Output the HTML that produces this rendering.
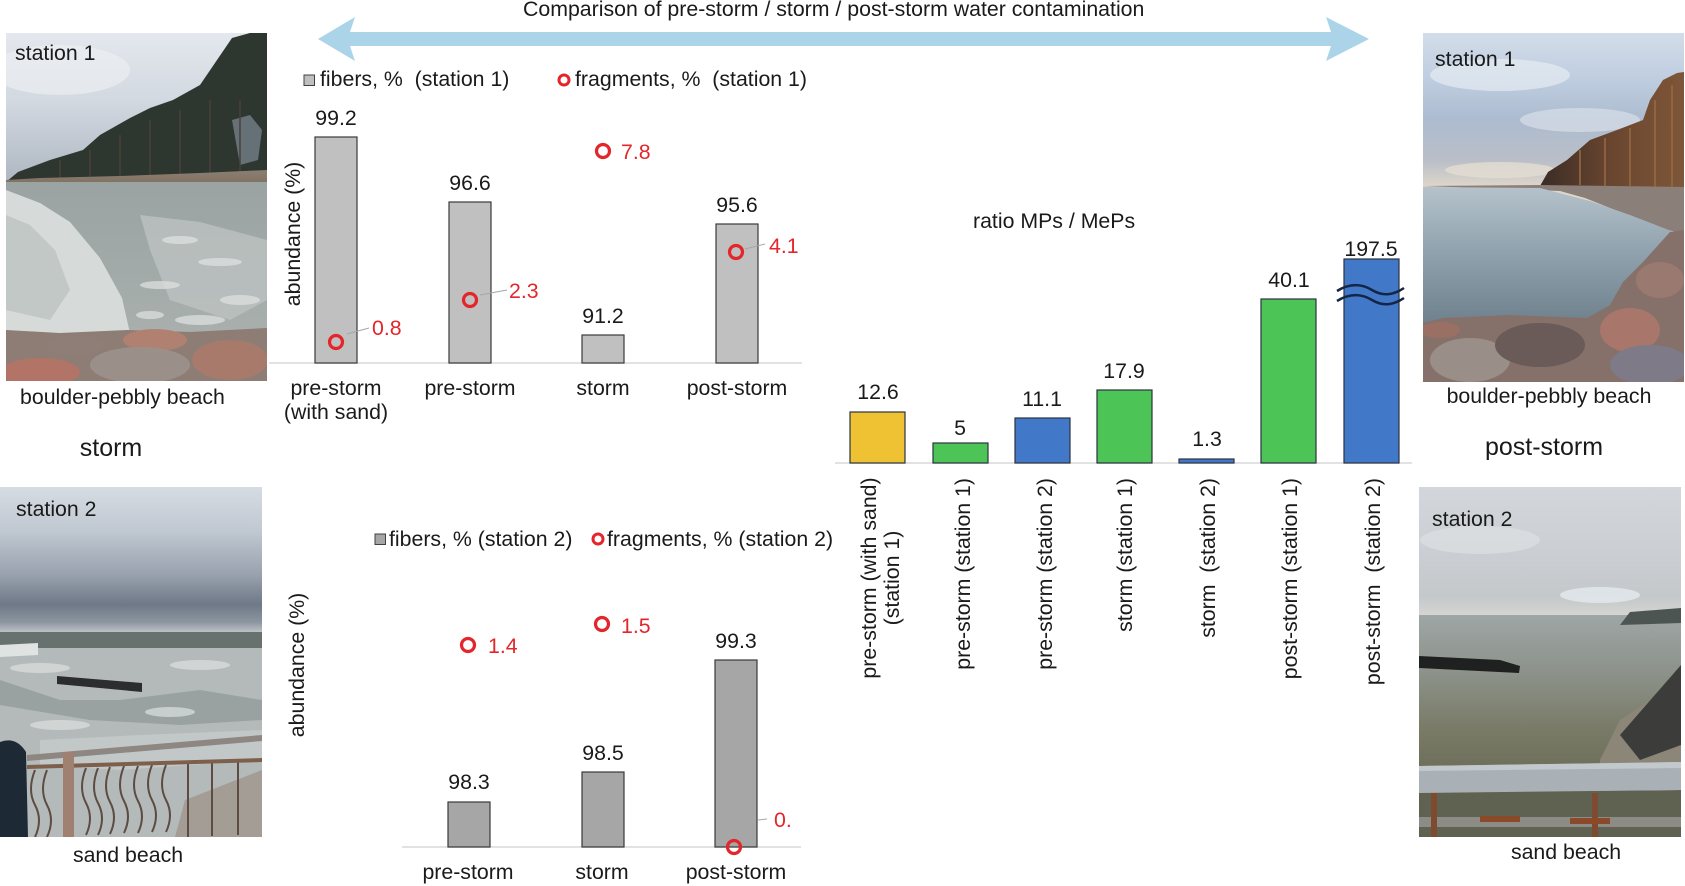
<!DOCTYPE html>
<html><head><meta charset="utf-8">
<style>
html,body{margin:0;padding:0;background:#fff;}
svg{display:block;}
text{font-family:"Liberation Sans",Arial,sans-serif;fill:#1a1a1a;font-size:21.3px;}
.red{fill:#e3262b;}
.big{font-size:25px;}
</style></head><body>
<svg width="1685" height="886" viewBox="0 0 1685 886" xmlns="http://www.w3.org/2000/svg">
<defs>
<clipPath id="cA"><rect x="6" y="33" width="261" height="348"/></clipPath>
<clipPath id="cB"><rect x="1423" y="33" width="261" height="349"/></clipPath>
<clipPath id="cC"><rect x="0" y="487" width="262" height="350"/></clipPath>
<clipPath id="cD"><rect x="1419" y="487" width="262" height="350"/></clipPath>
<linearGradient id="skyA" x1="0" y1="33" x2="0" y2="182" gradientUnits="userSpaceOnUse">
<stop offset="0" stop-color="#e4e8ee"/><stop offset="0.45" stop-color="#d3d9e1"/><stop offset="1" stop-color="#aeb7c2"/></linearGradient>
<linearGradient id="waterA" x1="0" y1="178" x2="0" y2="345" gradientUnits="userSpaceOnUse">
<stop offset="0" stop-color="#9aa3a2"/><stop offset="1" stop-color="#a9b0ae"/></linearGradient>
<linearGradient id="embA" x1="0" y1="170" x2="0" y2="218" gradientUnits="userSpaceOnUse">
<stop offset="0" stop-color="#8c7f70"/><stop offset="1" stop-color="#5e5045"/></linearGradient>
<linearGradient id="skyB" x1="0" y1="33" x2="0" y2="188" gradientUnits="userSpaceOnUse">
<stop offset="0" stop-color="#d3dde9"/><stop offset="0.3" stop-color="#bfcde0"/><stop offset="0.55" stop-color="#adbcd0"/><stop offset="0.82" stop-color="#b9bec8"/><stop offset="1" stop-color="#e0d7ca"/></linearGradient>
<linearGradient id="treeB" x1="1540" y1="0" x2="1684" y2="0" gradientUnits="userSpaceOnUse">
<stop offset="0" stop-color="#3a2c25"/><stop offset="0.5" stop-color="#6a4630"/><stop offset="1" stop-color="#7e5638"/></linearGradient>
<linearGradient id="waterB" x1="0" y1="185" x2="0" y2="330" gradientUnits="userSpaceOnUse">
<stop offset="0" stop-color="#b6c3cc"/><stop offset="0.45" stop-color="#91a3af"/><stop offset="1" stop-color="#6c7e89"/></linearGradient>
<linearGradient id="skyC" x1="0" y1="487" x2="0" y2="634" gradientUnits="userSpaceOnUse">
<stop offset="0" stop-color="#d6dce3"/><stop offset="0.3" stop-color="#c0c8d1"/><stop offset="0.6" stop-color="#98a1ad"/><stop offset="0.8" stop-color="#6e7987"/><stop offset="0.92" stop-color="#8c96a1"/><stop offset="1" stop-color="#c7cacd"/></linearGradient>
<linearGradient id="skyD" x1="0" y1="487" x2="0" y2="616" gradientUnits="userSpaceOnUse">
<stop offset="0" stop-color="#d3d7db"/><stop offset="0.5" stop-color="#cbcfd3"/><stop offset="0.85" stop-color="#c4c8ca"/><stop offset="1" stop-color="#d6d6d2"/></linearGradient>
<linearGradient id="waterD" x1="0" y1="615" x2="0" y2="775" gradientUnits="userSpaceOnUse">
<stop offset="0" stop-color="#9ea6a6"/><stop offset="0.35" stop-color="#8d938b"/><stop offset="0.7" stop-color="#7a7c68"/><stop offset="1" stop-color="#6d6d58"/></linearGradient>
</defs>

<!-- Arrow -->
<path d="M318,39 L355,17 L350,32 L1331,32 L1326,17 L1369,39 L1326,61 L1331,46 L350,46 L355,61 Z" fill="#acd4e8"/>
<text x="523" y="16">Comparison of pre-storm / storm / post-storm water contamination</text>

<!-- Photo A: left top -->
<g clip-path="url(#cA)">
<rect x="6" y="33" width="261" height="348" fill="url(#skyA)"/>
<ellipse cx="60" cy="70" rx="70" ry="25" fill="#eef1f4" opacity="0.6"/>
<polygon points="6,182 18,172 50,160 83,150 100,135 130,118 150,108 173,100 200,85 217,60 232,38 250,33 267,33 267,176 6,182" fill="#2d362f"/>
<polygon points="232,120 250,115 262,130 258,160 240,165" fill="#7f8a96" opacity="0.7"/>
<g stroke="#4a4038" stroke-width="1.5">
<line x1="60" y1="160" x2="60" y2="178"/><line x1="90" y1="150" x2="90" y2="177"/><line x1="120" y1="135" x2="120" y2="176"/><line x1="150" y1="120" x2="150" y2="176"/><line x1="180" y1="110" x2="180" y2="175"/><line x1="210" y1="100" x2="210" y2="174"/><line x1="240" y1="100" x2="240" y2="173"/>
</g>
<polygon points="6,180 40,178 120,176 200,173 267,170 267,218 200,206 120,193 40,184 6,183" fill="url(#embA)"/>
<rect x="6" y="182" width="261" height="165" fill="url(#waterA)"/>
<polygon points="6,190 40,203 70,222 100,258 122,298 132,342 6,342" fill="#d6dbd9"/>
<polygon points="6,215 30,225 55,250 70,290 50,320 6,310" fill="#b9c0bd" opacity="0.7"/>
<polygon points="140,215 200,222 267,240 267,300 230,320 170,300 150,250" fill="#bcc2c0" opacity="0.8"/>
<g fill="#e0e4e2" opacity="0.7">
<ellipse cx="180" cy="240" rx="18" ry="4"/><ellipse cx="220" cy="262" rx="22" ry="4"/><ellipse cx="160" cy="285" rx="20" ry="4"/><ellipse cx="240" cy="300" rx="20" ry="5"/><ellipse cx="200" cy="320" rx="25" ry="5"/><ellipse cx="150" cy="315" rx="14" ry="4"/>
</g>
<polygon points="6,330 60,333 127,330 190,332 267,328 267,381 6,381" fill="#8e7d74"/>
<ellipse cx="40" cy="372" rx="40" ry="14" fill="#b27466"/>
<ellipse cx="155" cy="340" rx="32" ry="11" fill="#b08070"/>
<ellipse cx="140" cy="365" rx="50" ry="18" fill="#9b9089"/>
<ellipse cx="230" cy="360" rx="38" ry="20" fill="#a87a6c"/>
<ellipse cx="75" cy="345" rx="28" ry="10" fill="#8f7e78"/>
</g>
<text x="15" y="60">station 1</text>
<text x="20" y="404">boulder-pebbly beach</text>
<text class="big" x="111" y="456" text-anchor="middle">storm</text>

<!-- Photo B: right top -->
<g clip-path="url(#cB)">
<rect x="1423" y="33" width="261" height="349" fill="url(#skyB)"/>
<ellipse cx="1500" cy="75" rx="70" ry="16" fill="#e6ecf2" opacity="0.7"/>
<ellipse cx="1580" cy="120" rx="60" ry="12" fill="#dfe5ec" opacity="0.6"/>
<ellipse cx="1500" cy="170" rx="55" ry="8" fill="#e4ddd2" opacity="0.8"/>
<polygon points="1540,186 1548,172 1567,160 1590,140 1617,130 1643,120 1650,100 1663,80 1677,73 1684,72 1684,188" fill="url(#treeB)"/>
<g stroke="#9a6a42" stroke-width="1.5">
<line x1="1580" y1="150" x2="1580" y2="185"/><line x1="1605" y1="138" x2="1605" y2="186"/><line x1="1630" y1="128" x2="1630" y2="186"/><line x1="1655" y1="100" x2="1655" y2="187"/><line x1="1672" y1="85" x2="1672" y2="187"/>
</g>
<polygon points="1423,186 1540,185 1684,187 1684,234 1660,228 1620,212 1585,198 1560,191" fill="#8a7f79"/>
<polygon points="1423,187 1540,188 1590,201 1630,215 1684,236 1684,382 1423,382" fill="url(#waterB)"/>
<polygon points="1423,323 1443,318 1510,315 1587,318 1610,305 1623,282 1643,262 1670,232 1684,230 1684,382 1423,382" fill="#86706a"/>
<ellipse cx="1470" cy="360" rx="40" ry="22" fill="#9a8e88"/>
<ellipse cx="1540" cy="345" rx="45" ry="22" fill="#6a5a58"/>
<ellipse cx="1630" cy="330" rx="30" ry="22" fill="#a8766a"/>
<ellipse cx="1660" cy="280" rx="24" ry="18" fill="#9a7a70"/>
<ellipse cx="1650" cy="365" rx="40" ry="20" fill="#7e7a88"/>
<ellipse cx="1440" cy="330" rx="20" ry="8" fill="#9a7064"/>
</g>
<text x="1435" y="66">station 1</text>
<text x="1549" y="403" text-anchor="middle">boulder-pebbly beach</text>
<text class="big" x="1544" y="455" text-anchor="middle">post-storm</text>

<!-- Photo C: left bottom -->
<g clip-path="url(#cC)">
<rect x="0" y="487" width="262" height="350" fill="url(#skyC)"/>
<rect x="0" y="632" width="262" height="18" fill="#67716d"/>
<rect x="0" y="648" width="262" height="189" fill="#b3bab9"/>
<polygon points="0,645 38,643 38,655 0,657" fill="#dfe3e2"/>
<polygon points="0,680 60,700 120,700 200,690 262,700 262,720 180,725 90,720 0,705" fill="#8f9997" opacity="0.7"/>
<polygon points="40,740 140,735 262,730 262,760 120,770 40,765" fill="#c9cfce" opacity="0.7"/>
<g fill="#dde1e0" opacity="0.7">
<ellipse cx="200" cy="665" rx="30" ry="5"/><ellipse cx="40" cy="668" rx="30" ry="5"/><ellipse cx="170" cy="712" rx="25" ry="5"/><ellipse cx="60" cy="725" rx="30" ry="5"/>
</g>
<polygon points="57,676 142,683 142,692 57,684" fill="#2b2d2f"/>
<polygon points="185,800 262,770 262,837 175,837" fill="#9c9288" opacity="0.7"/>
<g stroke="#5d4c42" stroke-width="2" fill="none">
<path d="M35,770 q-8,20 0,35 t0,32"/><path d="M47,770 q-8,20 0,35 t0,32"/><path d="M86,768 q-8,20 0,35 t0,32"/><path d="M98,768 q-8,20 0,35 t0,32"/><path d="M110,767 q-8,20 0,35 t0,32"/><path d="M124,766 q-8,20 0,35 t0,32"/><path d="M138,766 q-8,20 0,35 t0,32"/><path d="M152,765 q-8,20 0,35 t0,32"/><path d="M166,765 q-8,20 0,35 t0,32"/><path d="M188,764 l0,73"/><path d="M212,763 l0,73"/><path d="M238,762 l0,73"/>
</g>
<polygon points="27,755 262,735 262,741 27,761" fill="#8e8680"/>
<polygon points="27,765 262,758 262,762 27,769" fill="#7d5f4c"/>
<rect x="63" y="752" width="11" height="85" fill="#a08070"/>
<path d="M0,742 Q16,736 26,752 L28,837 L0,837 Z" fill="#1d2a35"/>
</g>
<text x="16" y="516">station 2</text>
<text x="128" y="862" text-anchor="middle">sand beach</text>

<!-- Photo D: right bottom -->
<g clip-path="url(#cD)">
<rect x="1419" y="487" width="262" height="130" fill="url(#skyD)"/>
<ellipse cx="1600" cy="595" rx="40" ry="8" fill="#e4eaee" opacity="0.8"/>
<ellipse cx="1480" cy="540" rx="60" ry="14" fill="#dfe2e5" opacity="0.6"/>
<rect x="1419" y="615" width="262" height="160" fill="url(#waterD)"/>
<polygon points="1630,612 1681,608 1681,623 1620,625" fill="#4d5553"/>
<polygon points="1419,656 1500,660 1520,666 1519,673 1419,668" fill="#1f2120"/>
<polygon points="1600,760 1620,720 1681,680 1681,775 1600,775" fill="#8c8678"/>
<polygon points="1620,735 1681,665 1681,745 1640,760" fill="#3c3c3a"/>
<polygon points="1419,792 1681,790 1681,837 1419,837" fill="#5f6251"/>
<polygon points="1419,766 1681,762 1681,790 1419,793" fill="#a9b1b7"/>
<polygon points="1419,766 1681,762 1681,768 1419,771" fill="#c2c9cd"/>
<rect x="1419" y="817" width="262" height="10" fill="#8c8b86"/>
<rect x="1431" y="793" width="6" height="44" fill="#7e4a30"/>
<rect x="1592" y="793" width="6" height="44" fill="#7e4a30"/>
<rect x="1480" y="816" width="40" height="6" fill="#8a4a2a"/>
<rect x="1570" y="818" width="40" height="6" fill="#8a4a2a"/>
</g>
<text x="1432" y="526">station 2</text>
<text x="1566" y="859" text-anchor="middle">sand beach</text>

<!-- Chart 1 -->
<rect x="304" y="75" width="10.5" height="10.5" fill="#bfbfbf" stroke="#404040" stroke-width="1"/>
<text x="320" y="86">fibers, %&#160; (station 1)</text>
<circle cx="564" cy="80" r="5" fill="none" stroke="#e3262b" stroke-width="3"/>
<text x="575" y="86">fragments, %&#160; (station 1)</text>
<text transform="translate(300,234) rotate(-90)" text-anchor="middle">abundance (%)</text>
<line x1="269" y1="363" x2="802" y2="363" stroke="#d9d9d9" stroke-width="1.5"/>
<g fill="#c0c0c0" stroke="#3a3a3a" stroke-width="1.2">
<rect x="315" y="137" width="42" height="226"/>
<rect x="449" y="202" width="42" height="161"/>
<rect x="582" y="335" width="42" height="28"/>
<rect x="716" y="224" width="42" height="139"/>
</g>
<g text-anchor="middle">
<text x="336" y="125">99.2</text>
<text x="470" y="190">96.6</text>
<text x="603" y="323">91.2</text>
<text x="737" y="212">95.6</text>
<text x="336" y="395">pre-storm</text>
<text x="336" y="419">(with sand)</text>
<text x="470" y="395">pre-storm</text>
<text x="603" y="395">storm</text>
<text x="737" y="395">post-storm</text>
</g>
<g stroke="#a6a6a6" stroke-width="1">
<line x1="347" y1="334" x2="369" y2="328"/>
<line x1="480" y1="295" x2="507" y2="290"/>
<line x1="745" y1="249" x2="765" y2="244"/>
</g>
<g fill="none" stroke="#e3262b" stroke-width="3.2">
<circle cx="336" cy="342" r="6.5"/>
<circle cx="470" cy="300" r="6.5"/>
<circle cx="603" cy="151" r="6.5"/>
<circle cx="736" cy="252" r="6.5"/>
</g>
<text class="red" x="372" y="335">0.8</text>
<text class="red" x="509" y="298">2.3</text>
<text class="red" x="621" y="159">7.8</text>
<text class="red" x="769" y="253">4.1</text>

<!-- Chart 2 -->
<rect x="375" y="534" width="10.5" height="10.5" fill="#a6a6a6" stroke="#404040" stroke-width="1"/>
<text x="389" y="546">fibers, % (station 2)</text>
<circle cx="598" cy="539" r="5" fill="none" stroke="#e3262b" stroke-width="3"/>
<text x="607" y="546">fragments, % (station 2)</text>
<text transform="translate(304,665) rotate(-90)" text-anchor="middle">abundance (%)</text>
<line x1="402" y1="847" x2="801" y2="847" stroke="#d9d9d9" stroke-width="1.5"/>
<g fill="#a6a6a6" stroke="#3a3a3a" stroke-width="1.2">
<rect x="448" y="802" width="42" height="45"/>
<rect x="582" y="772" width="42" height="75"/>
<rect x="715" y="660" width="42" height="187"/>
</g>
<g text-anchor="middle">
<text x="469" y="789">98.3</text>
<text x="603" y="760">98.5</text>
<text x="736" y="648">99.3</text>
<text x="468" y="879">pre-storm</text>
<text x="602" y="879">storm</text>
<text x="736" y="879">post-storm</text>
</g>
<line x1="758" y1="820" x2="767" y2="819" stroke="#a6a6a6" stroke-width="1"/>
<g fill="none" stroke="#e3262b" stroke-width="3.2">
<circle cx="468" cy="645" r="6.5"/>
<circle cx="602" cy="624" r="6.5"/>
<circle cx="734" cy="847" r="6.5"/>
</g>
<text class="red" x="488" y="653">1.4</text>
<text class="red" x="621" y="633">1.5</text>
<text class="red" x="774" y="827">0.</text>

<!-- Right chart -->
<text x="973" y="228">ratio MPs / MePs</text>
<line x1="835" y1="463" x2="1412" y2="463" stroke="#d9d9d9" stroke-width="1.5"/>
<g stroke="#2b3340" stroke-width="1.2">
<rect x="850" y="412" width="55" height="51" fill="#eec232"/>
<rect x="933" y="443" width="55" height="20" fill="#4cc456"/>
<rect x="1015" y="418" width="55" height="45" fill="#4178c8"/>
<rect x="1097" y="390" width="55" height="73" fill="#4cc456"/>
<rect x="1179" y="459" width="55" height="4" fill="#4178c8"/>
<rect x="1261" y="299" width="55" height="164" fill="#4cc456"/>
<rect x="1344" y="259" width="55" height="204" fill="#4178c8"/>
</g>
<g fill="none" stroke="#152545" stroke-width="2.5">
<path d="M1337,291 C1350,283 1362,284 1372,290 S1392,296 1404,288"/>
<path d="M1337,301 C1350,293 1362,294 1372,300 S1392,306 1404,298"/>
</g>
<g text-anchor="middle">
<text x="878" y="399">12.6</text>
<text x="960" y="435">5</text>
<text x="1042" y="406">11.1</text>
<text x="1124" y="378">17.9</text>
<text x="1207" y="446">1.3</text>
<text x="1289" y="287">40.1</text>
<text x="1371" y="256">197.5</text>
</g>
<text transform="translate(876,578) rotate(-90)" text-anchor="middle">pre-storm (with sand)</text>
<text transform="translate(899,578) rotate(-90)" text-anchor="middle">(station 1)</text>
<text transform="translate(970,478) rotate(-90)" text-anchor="end">pre-storm (station 1)</text>
<text transform="translate(1052,478) rotate(-90)" text-anchor="end">pre-storm (station 2)</text>
<text transform="translate(1132,478) rotate(-90)" text-anchor="end">storm (station 1)</text>
<text transform="translate(1215,478) rotate(-90)" text-anchor="end">storm&#160; (station 2)</text>
<text transform="translate(1297,478) rotate(-90)" text-anchor="end">post-storm (station 1)</text>
<text transform="translate(1380,478) rotate(-90)" text-anchor="end">post-storm&#160; (station 2)</text>
</svg>
</body></html>
